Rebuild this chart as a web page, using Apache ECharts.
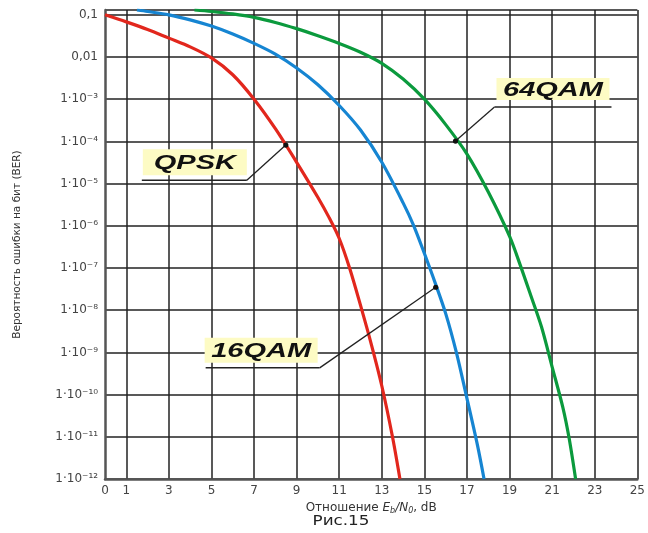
<!DOCTYPE html>
<html>
<head>
<meta charset="utf-8">
<script src="https://cdn.jsdelivr.net/npm/echarts@6/dist/echarts.min.js"></script>
<style>
  html, body { margin: 0; padding: 0; background: #fff; }
  #main { width: 648px; height: 533px; }
</style>
</head>
<body>
<div id="main"></div>
<script>
// подписи осей
const xLabelValues = [0, 1, 3, 5, 7, 9, 11, 13, 15, 17, 19, 21, 23, 25]
const xGridValues = [1, 3, 5, 7, 9, 11, 13, 15, 17, 19, 21, 23, 25]
const yTickLabels = {
  '-1': '0,1', '-2': '0,01', '-3': '1·10⁻³', '-4': '1·10⁻⁴', '-5': '1·10⁻⁵',
  '-6': '1·10⁻⁶', '-7': '1·10⁻⁷', '-8': '1·10⁻⁸', '-9': '1·10⁻⁹',
  '-10': '1·10⁻¹⁰', '-11': '1·10⁻¹¹', '-12': '1·10⁻¹²'
}

// кривые BER (Eb/N0 в dB, вероятность ошибки)
const qpskX = [0, 1, 2, 3, 4, 5, 6, 7, 8, 9, 10, 10.5, 11, 11.5, 12, 12.5, 13, 13.5, 13.85]
const qpskBer = [0.1, 0.068, 0.045, 0.028, 0.0174, 0.0095, 0.0038, 1e-3, 2e-4, 3.2e-5, 4.7e-6, 1.65e-6, 5e-7, 9.5e-8, 1.3e-8, 1.6e-9, 1.6e-10, 1e-11, 1e-12]

const qam16X = [1.5, 2, 3, 4, 5, 6, 7, 8, 9, 10, 11, 12, 13, 14, 14.5, 15, 15.5, 16, 16.5, 17, 17.5, 17.8]
const qam16Ber = [0.13, 0.12, 0.1, 0.076, 0.054, 0.035, 0.021, 0.0117, 0.0055, 0.0022, 7.1e-4, 1.86e-4, 3.2e-5, 3.5e-6, 1e-6, 2.2e-7, 4.5e-8, 8.3e-9, 1e-9, 8e-11, 6e-12, 1e-12]

const qam64X = [4.2, 5, 6, 7, 8, 9, 10, 11, 12, 13, 14, 15, 16, 17, 18, 19, 19.5, 20, 20.5, 21, 21.5, 21.8, 22.1]
const qam64Ber = [0.13, 0.12, 0.105, 0.087, 0.066, 0.047, 0.032, 0.021, 0.013, 0.0071, 0.003, 1e-3, 2.5e-4, 5e-5, 6.3e-6, 5.6e-7, 1.17e-7, 2.2e-8, 4e-9, 4.5e-10, 5e-11, 9e-12, 1e-12]

// выноски: острие на кривой и излом в координатах данных
const notes = [
  { text: 'QPSK', tip: [8.49, 8.2e-5], elbow: [6.66, 1.2e-5], side: 'left', len: 105, box: [-104, -31, 104, 26] },
  { text: '16QAM', tip: [15.53, 3.5e-8], elbow: [10.08, 4.3e-10], side: 'left', len: 114, box: [-115, -30, 113, 25] },
  { text: '64QAM', tip: [16.46, 1.02e-4], elbow: [18.29, 6.5e-4], side: 'right', len: 117, box: [2, -29, 113, 22] }
]

const pairs = (xs, ys) => xs.map((x, i) => [x, ys[i]])

const chart = echarts.init(document.getElementById('main'))

const lineSeries = (name, xs, ys, color) => ({
  name: name,
  type: 'line',
  data: pairs(xs, ys),
  showSymbol: false,
  smooth: 0.3,
  lineStyle: { color: color, width: 3.2 },
  z: 3
})

const option = {
  animation: false,
  grid: { left: 105, right: 10, top: 10, bottom: 54 },
  xAxis: {
    type: 'value',
    min: 0,
    max: 25,
    name: 'Отношение {i|E}{sb|b}{i|/N}{sb|0}, dB',
    nameLocation: 'middle',
    nameGap: 20,
    nameTextStyle: {
      color: '#333', fontSize: 12, fontFamily: 'DejaVu Sans',
      rich: {
        i: { fontStyle: 'italic', fontSize: 12, color: '#333', fontFamily: 'DejaVu Sans' },
        sb: { fontStyle: 'italic', fontSize: 8, color: '#333', padding: [6, 0, 0, 0], fontFamily: 'DejaVu Sans' }
      }
    },
    axisLine: { lineStyle: { color: '#555', width: 2.5 } },
    axisTick: { show: false, customValues: xGridValues },
    axisLabel: {
      customValues: xLabelValues,
      color: '#444', fontSize: 12, fontFamily: 'DejaVu Sans', margin: 6
    },
    splitLine: { show: true, lineStyle: { color: '#222', width: 1.5 } }
  },
  yAxis: {
    type: 'log',
    logBase: 10,
    min: 1e-12,
    max: 0.13,
    interval: 1,
    splitNumber: 11,
    name: 'Вероятность ошибки на бит (BER)',
    nameLocation: 'middle',
    nameGap: 82,
    nameTextStyle: { color: '#333', fontSize: 10.5, fontFamily: 'DejaVu Sans' },
    axisLine: { show: true, lineStyle: { color: '#555', width: 2.5 } },
    axisTick: { show: false },
    axisLabel: {
      color: '#444', fontSize: 12, fontFamily: 'DejaVu Sans', margin: 7,
      formatter: function (v) {
        const l = Math.log10(v)
        const e = Math.round(l)
        if (Math.abs(l - e) > 0.01) return ''
        return yTickLabels[e] || ''
      }
    },
    splitLine: { show: true, lineStyle: { color: '#222', width: 1.5 } }
  },
  series: [
    lineSeries('QPSK', qpskX, qpskBer, '#e2271d'),
    lineSeries('16QAM', qam16X, qam16Ber, '#1685d2'),
    lineSeries('64QAM', qam64X, qam64Ber, '#0b9a3d')
  ]
}

chart.setOption(option)

// рисуем выноски поверх графика
const toPx = p => chart.convertToPixel({ gridIndex: 0 }, p)
const graphics = []
notes.forEach(n => {
  const t = toPx(n.tip)
  const e = toPx(n.elbow)
  const x2 = n.side === 'left' ? e[0] - n.len : e[0] + n.len
  graphics.push({
    type: 'rect', z: 10,
    shape: { x: e[0] + n.box[0], y: e[1] + n.box[1], width: n.box[2], height: n.box[3] },
    style: { fill: '#fdfbc4' }
  })
  graphics.push({
    type: 'text', z: 11,
    x: e[0] + n.box[0] + n.box[2] / 2,
    y: e[1] + n.box[1] + n.box[3] / 2 + 1,
    scaleX: 1.45,
    style: {
      text: n.text, fill: '#111', align: 'center', verticalAlign: 'middle',
      font: 'italic bold 20px "Liberation Sans"'
    }
  })
  graphics.push({
    type: 'line', z: 11,
    shape: { x1: x2, y1: e[1], x2: e[0], y2: e[1] },
    style: { stroke: '#222', lineWidth: 1.5 }
  })
  graphics.push({
    type: 'line', z: 11,
    shape: { x1: e[0], y1: e[1], x2: t[0], y2: t[1] },
    style: { stroke: '#222', lineWidth: 1.3 }
  })
  graphics.push({
    type: 'circle', z: 11,
    shape: { cx: t[0], cy: t[1], r: 2.6 },
    style: { fill: '#111' }
  })
})
graphics.push({
  type: 'text', z: 11,
  x: 341, y: 521, scaleX: 1.2,
  style: { text: 'Рис.15', fill: '#222', align: 'center', verticalAlign: 'middle', font: '14px "DejaVu Sans"' }
})
chart.setOption({ graphic: graphics })
</script>
</body>
</html>
